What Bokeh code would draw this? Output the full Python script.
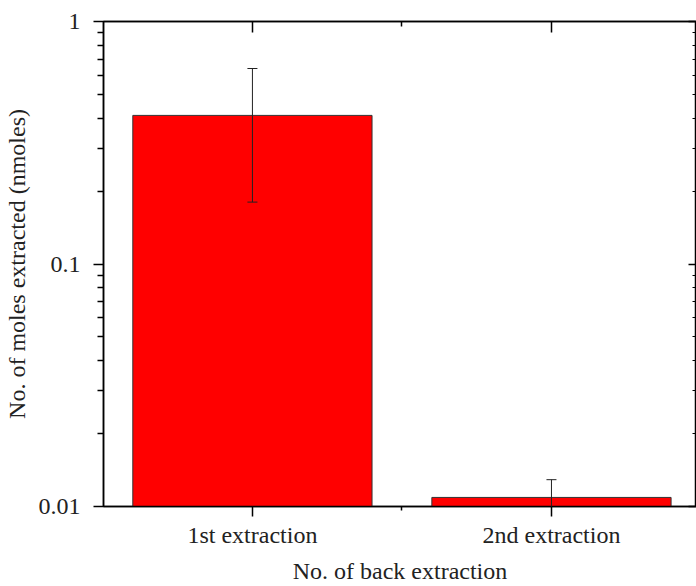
from bokeh.plotting import figure
from bokeh.models import (LinearAxis, LogAxis, FixedTicker, CustomJSTickFormatter,
                          Whisker, ColumnDataSource, Range1d)
from bokeh.embed import file_html
from bokeh.resources import INLINE

# data
categories = ["1st extraction", "2nd extraction"]
positions = [1, 2]
moles = [0.41, 0.0109]
errors = [0.23, 0.002]
y_ticks = [0.01, 0.1, 1]

FONT = "Liberation Serif"
minor = [k * 10.0 ** e for e in (-2, -1) for k in range(2, 10)]

upper = [m + e for m, e in zip(moles, errors)]
lower = [max(m - e, 1e-4) for m, e in zip(moles, errors)]
src = ColumnDataSource(dict(x=positions, top=moles, upper=upper, lower=lower))

p = figure(width=696, height=586, y_axis_type="log",
           x_range=Range1d(0.502, 2.485), y_range=Range1d(0.01, 1),
           output_backend="svg", toolbar_location=None,
           min_border_left=103, min_border_right=0, min_border_top=21,
           min_border_bottom=80)
p.grid.visible = False
p.outline_line_color = "black"
p.outline_line_width = 1.5
p.background_fill_color = "white"
p.border_fill_color = "white"

p.vbar(x="x", top="top", bottom=0.001, width=0.8, source=src,
       fill_color="#FF0000", line_color="#333333", line_width=1)

w = Whisker(base="x", upper="upper", lower="lower", source=src,
            line_color="#222222", line_width=1, level="overlay")
w.upper_head.size = 10
w.lower_head.size = 10
w.upper_head.line_color = "#222222"
w.lower_head.line_color = "#222222"
p.add_layout(w)

labels = {pos: c for pos, c in zip(positions, categories)}

# bottom axis
xa = p.xaxis[0]
xa.ticker = FixedTicker(ticks=positions, minor_ticks=[1.5])
xa.major_label_overrides = labels
xa.axis_label = "No. of back extraction"
xa.axis_label_text_font = FONT
xa.axis_label_text_font_style = "normal"
xa.axis_label_text_font_size = "24px"
xa.axis_label_text_color = "#222222"
xa.axis_label_standoff = 7
xa.major_label_text_font = FONT
xa.major_label_text_font_size = "24px"
xa.major_label_text_color = "#222222"
xa.major_label_standoff = 5
xa.major_tick_out = 10
xa.major_tick_in = 0
xa.minor_tick_out = 4
xa.minor_tick_in = 0
xa.axis_line_width = 1.5
xa.major_tick_line_width = 1.5
xa.minor_tick_line_width = 1.5

# left axis
ya = p.yaxis[0]
ya.ticker = FixedTicker(ticks=y_ticks, minor_ticks=minor)
ya.formatter = CustomJSTickFormatter(code="return tick.toString();")
ya.axis_label = "No. of moles extracted (nmoles)"
ya.axis_label_text_font = FONT
ya.axis_label_text_font_style = "normal"
ya.axis_label_text_font_size = "24px"
ya.axis_label_text_color = "#222222"
ya.axis_label_standoff = 6
ya.major_label_text_font = FONT
ya.major_label_text_font_size = "24px"
ya.major_label_text_color = "#222222"
ya.major_label_standoff = 13
ya.major_tick_out = 10
ya.major_tick_in = 0
ya.minor_tick_out = 6
ya.minor_tick_in = 0
ya.axis_line_width = 1.5
ya.major_tick_line_width = 1.5
ya.minor_tick_line_width = 1.5

# top axis
ta = LinearAxis(ticker=FixedTicker(ticks=positions, minor_ticks=[1.5]),
                formatter=CustomJSTickFormatter(code="return '';"),
                major_tick_in=11, major_tick_out=0, minor_tick_in=5, minor_tick_out=0,
                major_label_standoff=0,
                axis_line_width=1.5, major_tick_line_width=1.5, minor_tick_line_width=1.5)
p.add_layout(ta, "above")

# right axis
ra = LogAxis(ticker=FixedTicker(ticks=y_ticks, minor_ticks=minor),
             formatter=CustomJSTickFormatter(code="return '';"),
             major_tick_in=8, major_tick_out=0, minor_tick_in=4, minor_tick_out=0,
             major_label_standoff=0,
             axis_line_width=1.5, major_tick_line_width=1.5, minor_tick_line_width=1.0)
p.add_layout(ra, "right")

open("out.html", "w").write(file_html(p, INLINE))
